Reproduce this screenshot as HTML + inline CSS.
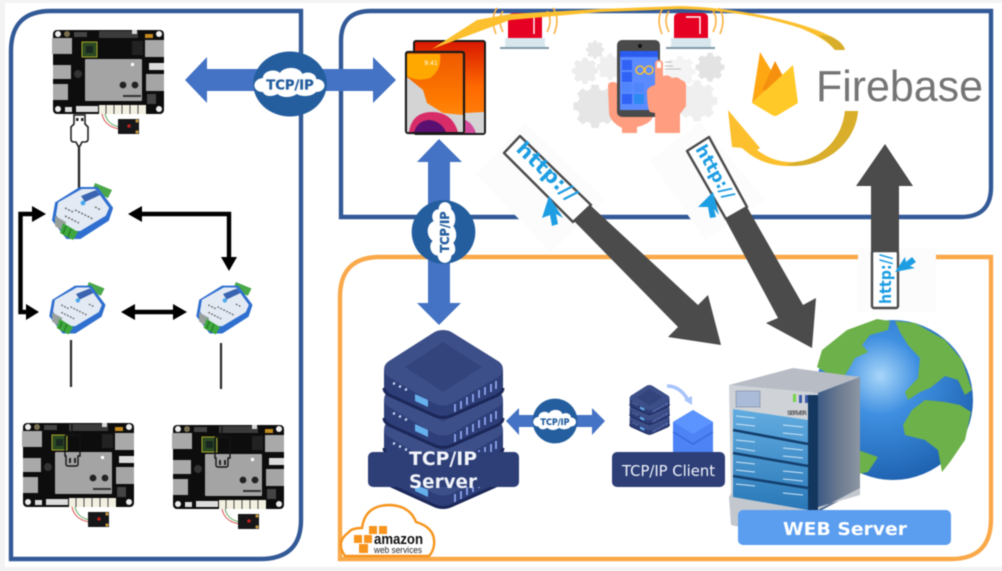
<!DOCTYPE html>
<html><head><meta charset="utf-8"><style>
html,body{margin:0;padding:0;background:#f3f3f3}
svg{display:block;filter:blur(.45px)}
text{font-family:"DejaVu Sans","Liberation Sans",sans-serif}
</style></head><body>
<svg width="1002" height="571" viewBox="0 0 1002 571" xmlns="http://www.w3.org/2000/svg">
<defs>
<radialGradient id="gl" cx=".42" cy=".35" r=".7"><stop offset="0" stop-color="#a8d6fa"/><stop offset=".35" stop-color="#3f8fe0"/><stop offset="1" stop-color="#1c5fae"/></radialGradient>
<linearGradient id="side" x1="0" x2="1" y1="0" y2="0"><stop offset="0" stop-color="#3d5a85"/><stop offset=".5" stop-color="#6c7a90"/><stop offset="1" stop-color="#8d96a3"/></linearGradient>
<linearGradient id="blade" x1="0" x2="0" y1="0" y2="1"><stop offset="0" stop-color="#62ace0"/><stop offset="1" stop-color="#2a78b8"/></linearGradient>
<linearGradient id="ipadb" x1="0" x2="0" y1="0" y2="1"><stop offset="0" stop-color="#d81800"/><stop offset=".5" stop-color="#ff6a00"/><stop offset="1" stop-color="#ff8a10"/></linearGradient>
<linearGradient id="ipad" x1="0" x2="0" y1="0" y2="1"><stop offset="0" stop-color="#ee5a00"/><stop offset=".6" stop-color="#ff7a00"/><stop offset="1" stop-color="#ff9a20"/></linearGradient>

<g id="board">
 <rect x="0" y="0" width="111" height="84" rx="4" fill="#0d0d0d"/>
 <rect x="-1" y="8" width="20" height="16" fill="#a9a9a9"/>
 <rect x="0" y="35" width="18" height="14" fill="#a9a9a9"/>
 <rect x="0" y="54" width="15" height="16" fill="#a9a9a9"/>
 <rect x="29" y="12" width="15" height="15" fill="#2c4a22" stroke="#a8a82c"/>
 <rect x="33" y="16" width="7" height="7" fill="#1a2620"/>
 <rect x="32" y="29" width="57" height="42" rx="1" fill="#a4a4a4"/>
 <rect x="92" y="10" width="19" height="17" fill="#a9a9a9"/>
 <rect x="93" y="44" width="18" height="17" fill="#a5a5a5"/>
 <rect x="46" y="1" width="39" height="7" fill="#3b3b3b"/>
 <rect x="21" y="2" width="13" height="5" fill="#444"/>
 <rect x="78" y="33" width="3" height="3" fill="#fff"/>
 <rect x="79" y="0" width="5" height="4" fill="#d8d8d8"/><rect x="92" y="4" width="8" height="4" fill="#c48a1e"/>
 <rect x="79" y="11" width="11" height="14" fill="#222"/>
 <rect x="96" y="33" width="15" height="7" fill="#ddd"/>
 <rect x="94" y="64" width="9" height="10" fill="#444"/>
 <circle cx="25" cy="44" r="4" fill="#333"/>
 <circle cx="70" cy="55" r="3.4" fill="#222"/><circle cx="82" cy="55" r="3.4" fill="#222"/>
 <rect x="70" y="65" width="18" height="2" fill="#333"/>
 <circle cx="5" cy="4" r="3" fill="#eee"/><circle cx="106" cy="4" r="3" fill="#eee"/><circle cx="5" cy="79" r="3" fill="#eee"/><circle cx="106" cy="79" r="3" fill="#eee"/>
 <circle cx="14" cy="4" r="3" fill="#7a7050"/>
 <rect x="12" y="77" width="7" height="5" fill="#ddd"/><rect x="23" y="76" width="22" height="6" fill="#ddd"/>
 <rect x="46" y="75" width="47" height="9" fill="#f2f0e0"/>
 <path d="M53 75v9M61 75v9M69 75v9M77 75v9M85 75v9" stroke="#222" stroke-width=".8"/>
 <path d="M49 84c2 10 10 14 18 15" fill="none" stroke="#d94a4a" stroke-width="1"/>
 <path d="M52 84c2 8 8 12 15 13" fill="none" stroke="#5aa85a" stroke-width="1"/>
 <rect x="65" y="89" width="21" height="15" fill="#17171a"/>
 <circle cx="76" cy="96" r="1.8" fill="#c02020"/>
 <circle cx="84" cy="91" r="1.6" fill="#c89a40"/><circle cx="84" cy="102" r="1.6" fill="#c89a40"/>
</g>

<g id="module">
 <path d="M39 0L56 7 52 15 36 8Z" fill="#4aa84a"/>
 <path d="M0 20L24 5H41L56 25 52 37 24 55H11L-3 37Z" fill="#2f6fd0" stroke="#2f6fd0" stroke-width="2" stroke-linejoin="round"/>
 <path d="M3 20L26 7H39L52 25 49 32 24 47H13L1 32Z" fill="#e3eaf4" stroke="#e3eaf4" stroke-width="2" stroke-linejoin="round"/>
 <path d="M25 13L40 7 44 12 29 19Z" fill="#3a63b0"/>
 <circle cx="27" cy="20" r="2.4" fill="#4aa8ee"/>
 <path d="M19 27l18 9M9 25l8 4M9 33l14 7M39 24l6 3" stroke="#666" stroke-width="1.4" stroke-dasharray="2 1.5"/>
 <path d="M-1 33l11 6-2 10-9-6z" fill="#98a09e"/>
 <path d="M7 40l15 9-5 8-13-7z" fill="#3ea83e"/>
 <path d="M10 43l-3 8M15 46l-3 8" stroke="#1c6e1c" stroke-width="1"/>
</g>

<g id="srv">
 <path d="M384 40V58Q384 62 389 65L433 85Q443 90 453 85L498 65Q503 62 503 58V40Z" fill="#2d3e78"/>
 <path d="M384 58Q384 62 389 65L433 85Q443 90 453 85L498 65Q503 62 503 58" fill="none" stroke="#1c2759" stroke-width="3"/>
 <path d="M443 0Q449 0 453 3L498 31Q503 34 503 40Q503 44 498 47L453 73Q443 78 433 73L389 47Q384 44 384 40Q384 34 389 31L433 3Q437 0 443 0Z" fill="#3d4f88"/>
 <path d="M443 12L482 37L443 62L405 37Z" fill="#33447d"/>
 <path d="M393 53l2 1M399 56l2 1M405 59l2 1" stroke="#c2cef0" stroke-width="2.6"/>
 <path d="M415 64l13 6v7l-13-6z" fill="#66b0ee"/>
 <path d="M455 74v8M461 71v8M467 67v8M473 64v8M479 60v8M485 57v8M491 54v8M496 51v8" stroke="#8fa4ee" stroke-width="1.8"/>
</g>

<g id="circ">
 <circle r="32.500" fill="#245e9e"/>
 <path d="M-24 8C-34 8-34-5-24-6C-24-13-13-16-9-11C-5-18 8-18 11-10C17-14 24-9 23-5C33-5 33 8 23 8C19 13 10 13 6 10C1 14-7 14-11 10C-16 13-22 13-24 8Z" fill="#fff"/>
 <text x="0" y="5.500" text-anchor="middle" font-size="13" font-weight="bold" fill="#245e9e" stroke="#245e9e" stroke-width=".3" textLength="42" lengthAdjust="spacingAndGlyphs">TCP/IP</text>
</g>

<g id="alarm">
 <path d="M0 27V6Q0 1 6 1H28Q34 1 34 6V27Z" fill="#e60023"/>
 <path d="M12 5H26V22" fill="none" stroke="#fff" stroke-width="1.4"/>
 <rect x="-3" y="26" width="40" height="9" fill="#d8e6ee"/>
 <rect x="-8" y="35" width="49" height="2" fill="#7f97a7"/>
 <path d="M-5 20C-9 12-9 5-5-1M-12 22C-16 12-16 3-11-4M39 20C43 12 43 5 39-1M46 22C50 12 50 3 45-4" fill="none" stroke="#fbb040" stroke-width="1.6"/>
</g>

<path id="gear" d="M-4-17h8l1 5 4 2 5-3 6 6-3 5 2 4 5 1v8l-5 1-2 4 3 5-6 6-5-3-4 2-1 5h-8l-1-5-4-2-5 3-6-6 3-5-2-4-5-1v-8l5-1 2-4-3-5 6-6 5 3 4-2z"/>
</defs>

<rect x="0" y="0" width="1002" height="571" fill="#f3f3f3"/>
<rect x="5" y="3" width="997" height="564" fill="#fff"/>

<!-- panels -->
<path d="M11 559V51Q11 11 51 11H301V520Q301 559 260 559Z" fill="none" stroke="#335a97" stroke-width="4.4"/>
<path d="M341 217V41Q341 11 371 11H991V187Q991 217 961 217Z" fill="none" stroke="#335a97" stroke-width="4.4"/>
<path d="M340 559V297Q340 257 380 257H991V519Q991 559 951 559Z" fill="none" stroke="#f9a94a" stroke-width="4.4"/>

<!-- faint hatch -->
<path d="M476 175L525 122 605 200 551 252Z" fill="#fcfcfc"/>
<path d="M650 160L700 122 765 200 705 240Z" fill="#fcfcfc"/>
<rect x="858" y="248" width="78" height="64" fill="#fcfcfc"/>

<!-- gears -->
<g>
 <use href="#gear" transform="translate(595,100) scale(.9)" fill="#e6e6e6"/>
 <use href="#gear" transform="translate(585,67) scale(.55)" fill="#ededed"/>
 <use href="#gear" transform="translate(595,47) scale(.38)" fill="#e8e8e8"/>
 <use href="#gear" transform="translate(610,63) scale(.55)" fill="#efefef"/>
 <use href="#gear" transform="translate(710,63) scale(.6)" fill="#e3e3e3"/>
 <use href="#gear" transform="translate(697,95) scale(.85)" fill="#efefef"/>
 <use href="#gear" transform="translate(680,67) scale(.65)" fill="#f4f4f4"/>
</g>

<!-- alarms -->
<use href="#alarm" transform="translate(508,12)"/>
<use href="#alarm" transform="translate(674,12)"/>

<!-- phone -->
<path d="M608 86Q608 82 613 82Q619 82 619 90V103L633 116H650L653 117Q650 124 637 127V133H622V128C614 124 609 118 609 112Z" fill="#ff9d80"/>
<rect x="617" y="40" width="43" height="77" rx="5" fill="#4a4a4a"/>
<circle cx="640" cy="46" r="2" fill="#111"/>
<rect x="620" y="51" width="38" height="59" fill="#5b8bff"/>
<rect x="620" y="51" width="38" height="6" fill="#2a5cf0"/>
<g fill="#2f62f5"><rect x="622" y="60" width="10" height="10"/><rect x="622" y="72" width="10" height="10"/><rect x="622" y="94" width="10" height="10"/><rect x="634" y="94" width="10" height="10" fill="#2d8af0"/></g>
<g fill="#4f86fb"><rect x="622" y="83" width="10" height="9"/><rect x="634" y="83" width="10" height="9"/></g>
<g fill="none" stroke="#f6c03a" stroke-width="1.6"><circle cx="640" cy="70" r="4"/><circle cx="649" cy="70" r="4"/></g>
<path d="M655 133V113L650 112Q647 108 647 90Q650 86 655 85V64Q655 60 659 60Q663 60 663 64V76Q668 74 672 78Q678 76 681 80Q686 81 686 86V106L680 114V133Z" fill="#ff9d80"/>
<path d="M657 62h4v6h-4z" fill="#fff"/>
<path d="M665 62h7M665 66h8M665 69h16" stroke="#bbb" stroke-width="1"/>

<!-- iPad -->
<rect x="414" y="41" width="71" height="93" rx="2" fill="url(#ipadb)" stroke="#1a1a1a" stroke-width="2"/>
<path d="M465 113L484 112V133H465Z" fill="#d4d4d4"/>
<path d="M465 120Q472 122 476 133H465Z" fill="#d44a9a"/>
<rect x="406" y="52" width="58" height="81" rx="2" fill="url(#ipad)" stroke="#1a1a1a" stroke-width="2.2"/>
<path d="M407 54H440Q442 70 430 78Q418 82 407 76Z" fill="#ffa800"/>
<path d="M407 77L423 90 427 103 443 113 463 115V132H407Z" fill="#d4d4d4"/>
<path d="M409 132Q412 112 432 112Q452 112 458 132Z" fill="#d72c68"/>
<path d="M414 132Q418 120 430 120Q442 122 446 132Z" fill="#5a1070"/>
<text x="431" y="65" font-size="6" fill="#fff" text-anchor="middle">9:41</text>

<!-- swoosh -->
<path d="M432 49L477 20 510 14 600 9 680 6C730 7 800 20 830 36Q843 42 845 50H835Q825 38 800 28C760 15 720 10 680 9L600 12 510 20Z" fill="#fcc02e"/>
<path d="M830 36Q843 42 845 50H835Q829 42 818 35Z" fill="#d8ae2a"/>
<path d="M858 111C856 140 830 165 790 166C770 166 755 160 742 148L732 147 728 110 760 148 757 150C770 160 785 163 795 162C820 160 842 140 845 111Z" fill="#fcc02e"/>
<path d="M858 111C856 140 830 165 795 166Q790 166 786 165L795 162C820 160 842 140 845 111Z" fill="#d8ae2a"/>

<!-- firebase -->
<path d="M752 103L760 52L777 80Z" fill="#ffa712"/>
<path d="M762 90L775 61L785 80L772 92Z" fill="#f6900f"/>
<path d="M752 103L793 65L798 103L778 115Q775 117 772 115Z" fill="#ffca28"/>
<text x="816" y="101" font-size="44" fill="#757575" textLength="167" lengthAdjust="spacingAndGlyphs" style='font-family:"Liberation Sans",sans-serif'>Firebase</text>

<!-- blue arrows -->
<path d="M185 80L207 57V69H373V57L396 80L373 103V91H207V103Z" fill="#4472c4"/>
<path d="M439 139L462 162H450V303H461L439 325L417 303H428V162H417Z" fill="#4472c4"/>
<use href="#circ" transform="translate(290,84) scale(1.13,1)"/>
<use href="#circ" transform="translate(443.500,232) rotate(-90) scale(.98)"/>

<!-- dark arrows -->
<path d="M590 205L698 305 708 295 721 345 668 337 678 327 573 220Z" fill="#4b4b4b"/>
<path d="M747 207L803 305 816 298 812 348 766 323 778 318 725 219Z" fill="#4b4b4b"/>
<path d="M885 144L913 186H899V252H871V186H856Z" fill="#4b4b4b"/>

<!-- http labels -->
<path d="M504 153L520 136L591 205L573 222Z" fill="#fff" stroke="#4b4b4b" stroke-width="2.4" stroke-linejoin="round"/>
<text transform="translate(515,150) rotate(44)" font-size="20" font-weight="bold" fill="#1d9de2" textLength="76" lengthAdjust="spacingAndGlyphs">http://</text>
<path d="M687 151L709 137L747 207L726 219Z" fill="#fff" stroke="#4b4b4b" stroke-width="2.4" stroke-linejoin="round"/>
<text transform="translate(695,149) rotate(60)" font-size="17" font-weight="bold" fill="#1d9de2" textLength="60" lengthAdjust="spacingAndGlyphs">http://</text>
<rect x="872" y="251" width="26" height="57" rx="2" fill="#fff" stroke="#4b4b4b" stroke-width="2.4"/>
<text transform="translate(891,304) rotate(-90)" font-size="16" font-weight="bold" fill="#1d9de2" textLength="50" lengthAdjust="spacingAndGlyphs">http://</text>
<path d="M549 196L563 218 556 214 558 224 552 226 550 215 542 218Z" fill="#1d9de2"/>
<path d="M713 192L719 215 714 209 716 217 710 218 708 207 698 207Z" fill="#1d9de2"/>
<path d="M895 272L905 257 906 262 912 257 916 262 910 266 915 268Z" fill="#1d9de2"/>

<!-- left boards -->
<use href="#board" transform="translate(53,30)"/>
<use href="#board" transform="translate(23,423)"/>
<use href="#board" transform="translate(173,425)"/>
<path d="M74 115h11v9l3 3v12q0 3-3 3h-3l-2 4h-2l-2-4h-2q-3 0-3-3v-12l3-3z" fill="#fff" stroke="#222" stroke-width="1.6"/>
<rect x="76" y="118" width="2.500" height="3" fill="#222"/><rect x="81" y="118" width="2.500" height="3" fill="#222"/>
<path d="M79 146V188" stroke="#2a2a2a" stroke-width="2.4"/>
<path d="M71 340V387M221 343V389" stroke="#2a2a2a" stroke-width="2.2"/>
<g fill="none" stroke="#151515" stroke-width="1.4">
 <path d="M72 423V435M67 435H78Q80 435 80 437V456H78V464Q78 466 76 466H68Q66 466 66 464V456H65V437Q65 435 67 435Z"/>
 <path d="M222 425V437M217 437H228Q230 437 230 439V458H228V465Q228 467 226 467H218Q216 467 216 465V458H215V439Q215 437 217 437Z"/>
</g>
<path d="M69 458h2v5h-2zM74 458h2v5h-2zM219 460h2v5h-2zM224 460h2v5h-2z" fill="#222"/>

<!-- modules -->
<use href="#module" transform="translate(56,183)"/>
<use href="#module" transform="translate(53,282) scale(.92)"/>
<use href="#module" transform="translate(200,282) scale(.92)"/>

<!-- black arrows -->
<g fill="none" stroke="#000" stroke-width="4.400">
 <path d="M34 214H20.500V312H27"/>
 <path d="M141 214H229V258"/>
 <path d="M133 312H176"/>
</g>
<g fill="#000">
 <path d="M46 214L32 206V222Z"/>
 <path d="M39 312L26 304V320Z"/>
 <path d="M128 214L142 206V222Z"/>
 <path d="M229 271L221 257H237Z"/>
 <path d="M121 312L135 304V320Z"/>
 <path d="M187 312L173 304V320Z"/>
</g>

<!-- TCP server -->
<use href="#srv" transform="translate(0,420)"/>
<use href="#srv" transform="translate(0,390)"/>
<use href="#srv" transform="translate(0,360)"/>
<use href="#srv" transform="translate(0,330)"/>
<rect x="368" y="452" width="151" height="35" rx="5" fill="#2e3f78"/>
<text x="443" y="465" font-size="19" font-weight="bold" fill="#f1f4fa" text-anchor="middle" textLength="68" lengthAdjust="spacingAndGlyphs">TCP/IP</text>
<text x="443" y="488" font-size="19" font-weight="bold" fill="#f1f4fa" text-anchor="middle" textLength="68" lengthAdjust="spacingAndGlyphs">Server</text>

<!-- small arrow -->
<path d="M506 421L519 408V415H592V408L605 421L592 435V427H519V435Z" fill="#4472c4"/>
<g transform="translate(555,421) scale(.69)"><use href="#circ"/></g>

<!-- client stacks -->
<g transform="translate(501,405) scale(.335)"><use href="#srv"/></g>
<g transform="translate(501,395) scale(.335)"><use href="#srv"/></g>
<g transform="translate(501,385) scale(.335)"><use href="#srv"/></g>
<g>
 <path d="M693 410L713 422V452H673V422Z" fill="#4d83f5"/>
 <path d="M693 410L713 422 693 434 673 422Z" fill="#5b93ff"/>
 <path d="M673 432L693 444 713 432" fill="none" stroke="#3a6ae0" stroke-width="1.4"/>
</g>
<path d="M667 386Q680 386 688 400" fill="none" stroke="#a9c4fb" stroke-width="3.6"/>
<path d="M684 400L692 396 692 405Z" fill="#a9c4fb"/>
<rect x="612" y="452" width="113" height="35" rx="5" fill="#2e3f78"/>
<text x="622" y="476" font-size="15" fill="#f1f4fa" textLength="93" lengthAdjust="spacingAndGlyphs">TCP/IP Client</text>

<!-- globe -->
<circle cx="893" cy="400" r="80" fill="url(#gl)"/>
<g fill="#6db14a">
 <path d="M817 367L822 350 847 330 877 319 890 321 888 330 870 335 862 345 868 352 855 358 850 367 845 375 830 375Z"/>
 <path d="M895 321L915 323 945 340 962 360 972 390 965 395 958 380 945 376 930 388 920 392 908 400 905 392 918 378 920 358 908 345 900 332Z"/>
 <path d="M903 425L912 410 925 400 945 402 960 405 971 412 965 440 950 462 942 472 938 450 925 440 905 435Z"/>
 <path d="M858 450L878 457 868 472 858 474Z"/>
</g>

<!-- server -->
<path d="M729 385L793 368 860 377 818 393Z" fill="#b8bcc4"/>
<path d="M818 393L860 377V490L818 512Z" fill="url(#side)"/>
<path d="M729 385L818 393V512L731 497Z" fill="#cfd3d8"/>
<path d="M729 497L731 525 740 527 790 515 860 495 860 488 818 510 733 490Z" fill="#c3c8cf"/>
<rect x="736" y="391" width="24" height="16" fill="#a9bbd8" stroke="#7a88a0" stroke-width=".6"/>
<rect x="793" y="394" width="3" height="8" fill="#74d44a"/><rect x="799" y="395" width="3" height="8" fill="#3d5aa8"/><rect x="805" y="395" width="3" height="8" fill="#3d5aa8"/>
<text x="787" y="415" font-size="6" fill="#666" textLength="20" font-weight="bold">SERVER</text>
<path d="M733 409L808 420V510L733 497Z" fill="url(#blade)"/>
<path d="M733 430L808 444M733 453L808 466M733 476L808 488" stroke="#133f6e" stroke-width="2.6"/>
<path d="M736 416l19 2M783 425l20 2M736 424l19 2M783 433l20 2M736 440l19 2M783 448l20 2M736 448l19 3M783 456l20 2M736 462l19 2M783 471l20 2M736 470l19 2M783 479l20 2M736 484l19 2M783 493l20 2" stroke="#cfe6f6" stroke-width="1"/>
<path d="M808 395H818V512H808Z" fill="#14375f"/>

<rect x="738" y="510" width="213" height="35" rx="5" fill="#5b9ef0"/>
<text x="845" y="535" font-size="18" font-weight="bold" fill="#fff" text-anchor="middle" textLength="124" lengthAdjust="spacingAndGlyphs">WEB Server</text>

<!-- AWS -->
<path d="M345 556Q335 542 349 532Q352 528 362 528Q365 505 390 505Q410 506 416 522Q436 528 434 545Q433 552 429 556Z" fill="#fff" stroke="#f7941e" stroke-width="2.400"/>
<g fill="#f7941e">
 <rect x="369" y="526" width="8" height="8"/><rect x="379" y="526" width="8" height="8"/>
 <rect x="354" y="535" width="8" height="8"/><rect x="364" y="535" width="8" height="8"/>
 <rect x="359" y="544" width="9" height="9"/>
</g>
<text x="374" y="544" font-size="15" font-weight="bold" fill="#111" textLength="49" lengthAdjust="spacingAndGlyphs" style='font-family:"Liberation Sans",sans-serif'>amazon</text>
<text x="374" y="553" font-size="9" fill="#222" textLength="48" lengthAdjust="spacingAndGlyphs" style='font-family:"Liberation Sans",sans-serif'>web services</text>
</svg>
</body></html>
